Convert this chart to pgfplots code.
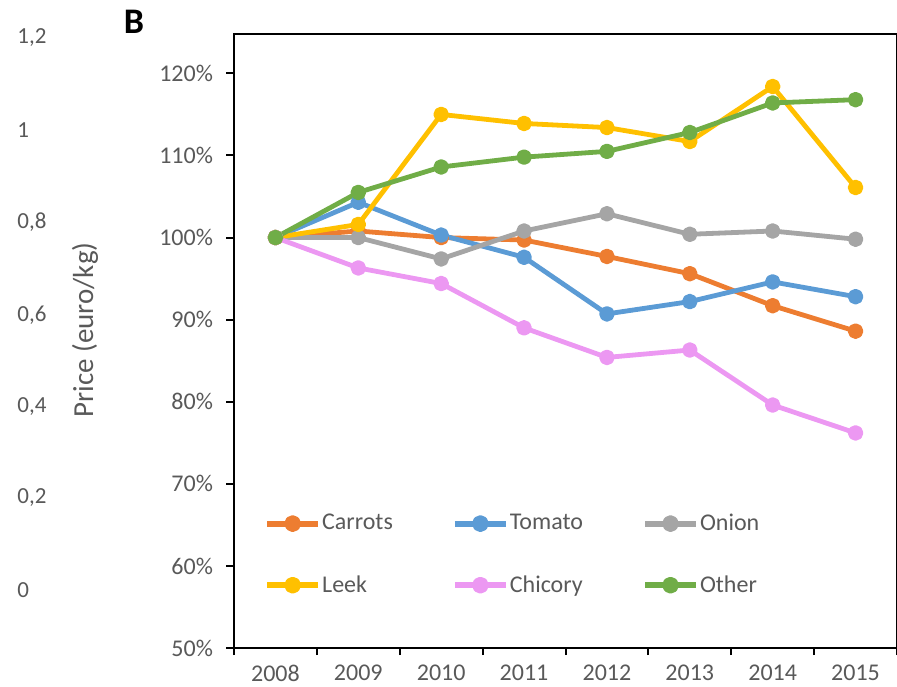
\documentclass[border=0pt]{standalone}
\usepackage{pgfplots}
\pgfplotsset{compat=1.18}
\usepackage{fontspec}
\setmainfont{Carlito}
\definecolor{cCar}{HTML}{ED7D31}
\definecolor{cTom}{HTML}{5B9BD5}
\definecolor{cOni}{HTML}{A5A5A5}
\definecolor{cLee}{HTML}{FFC000}
\definecolor{cChi}{HTML}{EC98F2}
\definecolor{cOth}{HTML}{70AD47}
\definecolor{txt}{HTML}{595959}
\begin{document}
\begin{tikzpicture}
\useasboundingbox (0,0) rectangle (448.5pt,343pt);
% stray axis labels of neighbouring panel
\begin{scope}[every node/.style={anchor=west, text=txt, font=\fontsize{11.5}{13}\selectfont, inner sep=0pt}]
\node at (8.5pt,324pt) {1,2};
\node at (8.5pt,278pt) {1};
\node at (8.5pt,232pt) {0,8};
\node at (8.5pt,185.5pt) {0,6};
\node at (8.5pt,139.5pt) {0,4};
\node at (8.5pt,94pt) {0,2};
\node at (8.5pt,48pt) {0};
\end{scope}
\node[rotate=90, text=txt, font=\fontsize{14.5}{16}\selectfont, inner sep=0pt] at (42.5pt,178pt) {Price (euro/kg)};
\node[font=\fontsize{18}{20}\bfseries, inner sep=0pt] at (67pt,332pt) {B};
\begin{axis}[
  at={(117pt,19pt)}, anchor=south west,
  scale only axis, width=331.5pt, height=307pt,
  xmin=-0.5, xmax=7.5, ymin=50, ymax=124.8,
  axis line style={black, line width=1pt},
  tick align=outside,
  xtick={0,1,2,3,4,5,6,7},
  xticklabels={2008,2009,2010,2011,2012,2013,2014,2015},
  major x tick style={draw=none},
  minor xtick={-0.5,0.5,1.5,2.5,3.5,4.5,5.5,6.5,7.5},
  minor x tick style={black, line width=1pt},
  minor tick length=3.5pt,
  xtick pos=bottom, ytick pos=left,
  ytick={50,60,70,80,90,100,110,120},
  yticklabel={\pgfmathprintnumber{\tick}\%},
  major tick length=4pt,
  y tick style={black, line width=1pt},
  tick label style={text=txt, font=\fontsize{12}{14}\selectfont},
  /pgf/number format/assume math mode=true,
  xticklabel style={inner sep=0pt, yshift=-4.5pt},
  yticklabel style={xshift=-3pt},
  legend columns=3,
  legend cell align=left,
  legend style={draw=none, fill=none, inner sep=0pt, outer sep=0pt,
    at={(rel axis cs:0.0455,0.225)}, anchor=north west,
    font=\fontsize{12}{14}\selectfont, text=txt,
    row sep=17pt,
    /tikz/every odd column/.append style={column sep=-1.5pt},
    /tikz/every even column/.append style={column sep=27.5pt}},
  legend image code/.code={\draw[#1, line width=3pt, mark repeat=2, mark phase=2] plot coordinates {(0pt,0pt) (12.75pt,0pt) (25.5pt,0pt)};},
  every axis plot/.append style={line width=2.4pt, mark=*, mark size=2.7pt, line join=round},
]
\addplot[color=cCar] coordinates {(0,100) (1,100.8) (2,100.0) (3,99.7) (4,97.7) (5,95.6) (6,91.7) (7,88.6)};
\addlegendentry{Carrots}
\addplot[color=cTom] coordinates {(0,100) (1,104.3) (2,100.3) (3,97.6) (4,90.7) (5,92.2) (6,94.6) (7,92.8)};
\addlegendentry{Tomato}
\addplot[color=cOni] coordinates {(0,100) (1,100.0) (2,97.4) (3,100.8) (4,102.9) (5,100.4) (6,100.8) (7,99.8)};
\addlegendentry{Onion}
\addplot[color=cLee] coordinates {(0,100) (1,101.6) (2,115.0) (3,113.9) (4,113.4) (5,111.7) (6,118.4) (7,106.1)};
\addlegendentry{Leek}
\addplot[color=cChi] coordinates {(0,100) (1,96.3) (2,94.4) (3,89.0) (4,85.4) (5,86.3) (6,79.6) (7,76.2)};
\addlegendentry{Chicory}
\addplot[color=cOth] coordinates {(0,100) (1,105.5) (2,108.6) (3,109.8) (4,110.5) (5,112.8) (6,116.4) (7,116.8)};
\addlegendentry{Other}
\end{axis}
\end{tikzpicture}
\end{document}
